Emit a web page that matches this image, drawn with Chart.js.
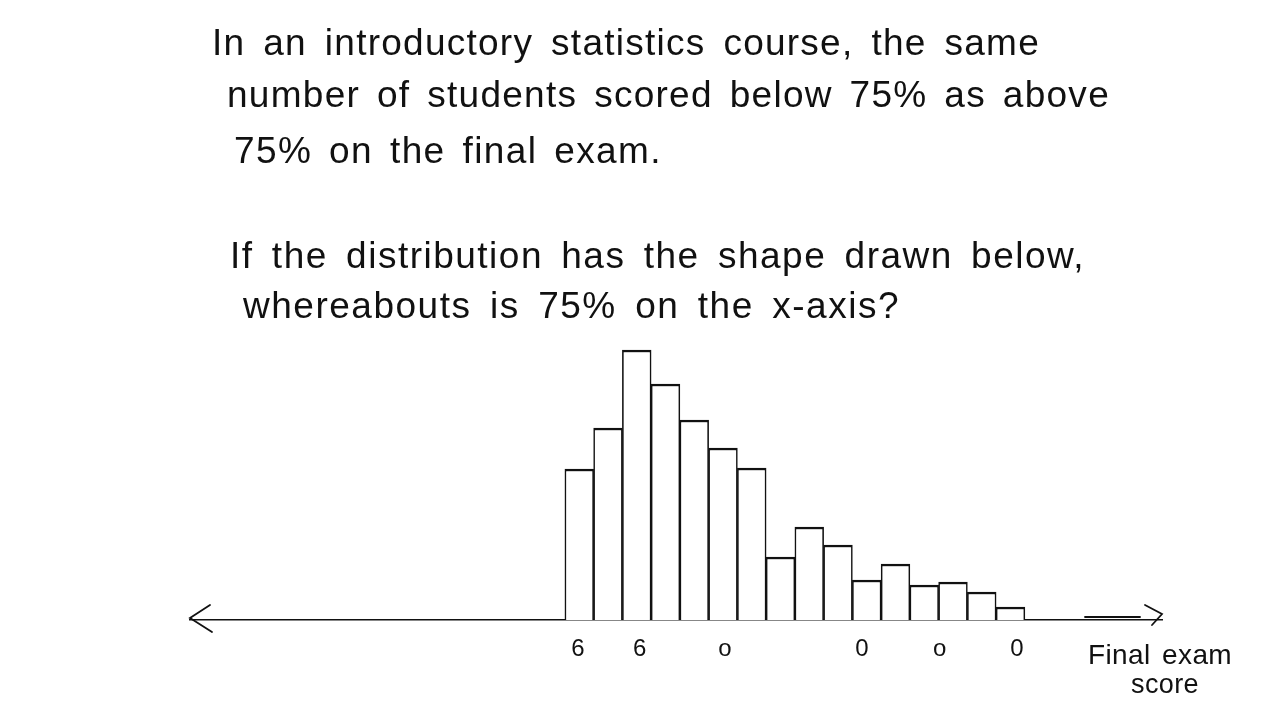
<!DOCTYPE html>
<html><head><meta charset="utf-8">
<script src="https://cdn.jsdelivr.net/npm/chart.js@4.4.1/dist/chart.umd.min.js"></script>
<style>
html,body{margin:0;padding:0;background:#fff;width:1280px;height:720px;overflow:hidden;}
#wrap{position:relative;width:1280px;height:720px;}
canvas{position:absolute;left:0;top:0;}
.t{position:absolute;font-family:"Liberation Sans",Arial,sans-serif;color:#111;white-space:nowrap;}
</style></head><body>
<div id="wrap"><canvas id="c" width="1280" height="720"></canvas></div>
<script>
// ---- data ----
const questionLines = [
  "In an introductory statistics course, the same",
  "number of students scored below 75% as above",
  "75% on the final exam.",
  "If the distribution has the shape drawn below,",
  "whereabouts is 75% on the x-axis?"
];
const binCenters = [0.5,1.5,2.5,3.5,4.5,5.5,6.5,7.5,8.5,9.5,10.5,11.5,12.5,13.5,14.5,15.5];
const frequencies = [151,192,270,236,200,172,152,63,93,75,40,56,35,38,28,13];
const tickValues = [0.45,2.6,5.57,10.33,13.04,15.72];
const tickLabels = ["6","6","o","0","o","0"];
const axisTitleLines = ["Final exam","score"];

// ---- layout of text (positions only) ----
const qLayout = [
  {x:212, base:55, w:828},
  {x:227, base:107, w:883},
  {x:234, base:163, w:428},
  {x:230, base:268, w:855},
  {x:243, base:318, w:657}
];
const tLayout = [{x:1088, base:665, w:144, fs:28},{x:1131, base:694, w:68, fs:27}];

const wrap = document.getElementById('wrap');
function placeLine(text, x, base, w, fs, share){
  const d = document.createElement('div');
  d.className = 't';
  d.style.fontSize = fs + 'px';
  d.style.lineHeight = fs + 'px';
  d.style.left = x + 'px';
  d.style.top = (base - 0.8465*fs) + 'px';
  d.textContent = text;
  wrap.appendChild(d);
  const nat = d.getBoundingClientRect().width;
  const spaces = (text.match(/ /g) || []).length;
  const extra = w - nat;
  if (spaces > 0) {
    d.style.letterSpacing = (extra*share/text.length) + 'px';
    const nat2 = d.getBoundingClientRect().width;
    d.style.wordSpacing = ((w - nat2)/spaces) + 'px';
  } else {
    d.style.letterSpacing = (extra/text.length) + 'px';
  }
}
questionLines.forEach((s,i)=>placeLine(s, qLayout[i].x, qLayout[i].base, qLayout[i].w, 37, 0.6));
axisTitleLines.forEach((s,i)=>placeLine(s, tLayout[i].x, tLayout[i].base, tLayout[i].w, tLayout[i].fs, 0.5));

// ---- arrows plugin ----
const arrows = {
  id:'arrows',
  afterDraw(chart){
    const {ctx, chartArea:a} = chart;
    const y = a.bottom;
    ctx.save();
    ctx.strokeStyle = '#111';
    ctx.lineWidth = 1.8;
    ctx.lineCap = 'round';
    ctx.beginPath();
    ctx.moveTo(a.left+20, y-15); ctx.lineTo(a.left, y-2); ctx.lineTo(a.left+22, y+12);
    ctx.stroke();
    ctx.beginPath();
    ctx.moveTo(a.right-17, y-15); ctx.lineTo(a.right, y-6); ctx.lineTo(a.right-10, y+5);
    ctx.stroke();
    ctx.beginPath();
    ctx.moveTo(a.right-77, y-3); ctx.lineTo(a.right-22, y-3);
    ctx.stroke();
    ctx.restore();
  }
};

new Chart(document.getElementById('c'), {
  type:'bar',
  data:{
    datasets:[{
      data: binCenters.map((x,i)=>({x, y:frequencies[i]})),
      backgroundColor:'#ffffff',
      borderColor:'#111111',
      borderWidth:{top:2.5,left:1.6,right:1.6,bottom:0},
      borderSkipped:'bottom',
      barPercentage:1,
      categoryPercentage:1
    }]
  },
  options:{
    responsive:false,
    devicePixelRatio:1,
    animation:false,
    layout:{padding:{top:340,left:190,right:118,bottom:0}},
    plugins:{legend:{display:false},tooltip:{enabled:false},title:{display:false}},
    scales:{
      x:{
        type:'linear',
        offset:false,
        min:-13.04, max:20.77,
        grid:{display:false, drawTicks:false},
        border:{display:true, color:'#111', width:1.6},
        afterBuildTicks(scale){ scale.ticks = tickValues.map(v=>({value:v})); },
        afterFit(scale){ scale.height = 100; },
        ticks:{
          autoSkip:false, maxRotation:0, padding:15,
          color:'#111',
          font:{family:'"Liberation Sans", Arial, sans-serif', size:24},
          callback(v, i){ return tickLabels[i]; }
        }
      },
      y:{display:false, min:0, max:280}
    }
  },
  plugins:[arrows]
});
</script>
</body></html>
